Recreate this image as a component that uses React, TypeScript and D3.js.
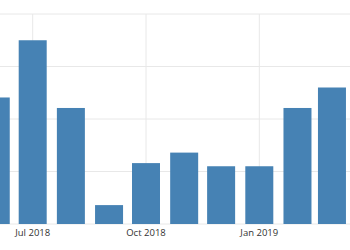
import React from "react";
import * as d3 from "d3";

const months = ["2018-06-01","2018-07-01","2018-08-01","2018-09-01","2018-10-01","2018-11-01","2018-12-01","2019-01-01","2019-02-01","2019-03-01"];
const values = [2.41, 3.5, 2.21, 0.36, 1.16, 1.36, 1.1, 1.1, 2.21, 2.6];
const yTicks = [0, 1, 2, 3, 4];
const xTicks = ["2018-07-01", "2018-10-01", "2019-01-01"];
const xTickLabels = ["Jul 2018", "Oct 2018", "Jan 2019"];

const W = 350, H = 250;
const parse = d3.timeParse("%Y-%m-%d");

export default function App() {
  const x = d3.scaleTime()
    .domain([parse("2018-07-01")!, parse("2019-01-01")!])
    .range([32.7, 259.3]);
  const y = d3.scaleLinear().domain([0, 4]).range([224, 14]);
  const bw = 28;
  return (
    <svg width={W} height={H} style={{ position: "absolute", left: 0, top: 0, background: "#fff" }}>
      {yTicks.map((t) => (
        <line key={"h" + t} x1={0} x2={W} y1={y(t)} y2={y(t)} stroke="#e8e8e8" strokeWidth={1} />
      ))}
      {xTicks.map((t) => (
        <line key={"v" + t} x1={x(parse(t)!)} x2={x(parse(t)!)} y1={y(4)} y2={y(0)} stroke="#e8e8e8" strokeWidth={1} />
      ))}
      {months.map((m, i) => (
        <rect key={m} x={x(parse(m)!) - bw / 2} width={bw} y={y(values[i])} height={y(0) - y(values[i])} fill="#4682b4" />
      ))}
      {xTicks.map((t, i) => (
        <text key={"l" + t} x={x(parse(t)!)} y={236} textAnchor="middle" fontFamily="'Open Sans', sans-serif" fontSize={9.5} fill="#333">
          {xTickLabels[i]}
        </text>
      ))}
    </svg>
  );
}
